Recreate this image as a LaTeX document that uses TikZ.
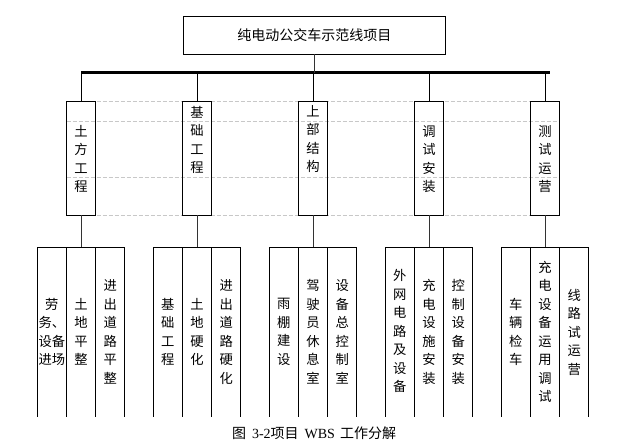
\documentclass[tikz,border=0pt]{standalone}
\usepackage{fontspec}
\setmainfont{Liberation Serif}
\newfontfamily\cjk{Noto Sans CJK SC}
\begin{document}
\begin{tikzpicture}[x=1pt,y=-1pt,
  boxline/.style={line width=1pt,draw=black},
  topbox/.style={boxline,minimum width=262.4pt,minimum height=38pt,inner sep=0pt,outer sep=0pt,
     font=\cjk\fontsize{14}{16}\selectfont},
  parbox/.style={draw=none,minimum width=29pt,minimum height=114.3pt,inner sep=0pt,outer sep=0pt},
  childbox/.style={draw=none,minimum width=29.2pt,minimum height=169.4pt,inner sep=0pt,outer sep=0pt},
  vtext/.style={align=center,inner sep=0pt,font=\cjk\fontsize{13.3}{18.5}\selectfont},
  guide/.style={draw={rgb,255:red,200;green,200;blue,200},line width=0.8pt,dash pattern=on 4pt off 2pt},
  conn/.style={line width=1pt,draw=black!80},
  bus/.style={line width=2.6pt,draw=black}]
\useasboundingbox (0,0) rectangle (624,447);

% top box
\node[topbox] (top) at (314.4,35) {纯电动公交车示范线项目};

% parent boxes
\node[parbox] (p1) at (81,158.15) {};
\node[parbox] (p2) at (197,158.15) {};
\node[parbox] (p3) at (313,158.15) {};
\node[parbox] (p4) at (429,158.15) {};
\node[parbox] (p5) at (545,158.15) {};

% guide dashed lines (behind)
\coordinate (g1l) at (66.5,121.3);
\coordinate (g1r) at (559.5,121.3);
\coordinate (g2l) at (66.5,177.3);
\coordinate (g2r) at (559.5,177.3);
\draw[guide] (p1.north west) -- (p5.north east);
\draw[guide] (g1l) -- (g1r);
\draw[guide] (g2l) -- (g2r);
\draw[guide] (p1.south west) -- (p5.south east);
% parent borders above guides
\foreach \p in {p1,p2,p3,p4,p5} {\draw[boxline] (\p.north west) rectangle (\p.south east);}

% parent texts
\node[vtext] (t1) at (81,159.2) {土\\方\\工\\程};
\node[vtext] (t2) at (197,140) {基\\础\\工\\程};
\node[vtext] (t3) at (313,139.2) {上\\部\\结\\构};
\node[vtext] (t4) at (429,159.2) {调\\试\\安\\装};
\node[vtext] (t5) at (545,159.2) {测\\试\\运\\营};

% bus
\coordinate (busL) at (81,72.7);
\coordinate (busR) at (550.4,72.7);
\draw[bus] (busL) -- (busR);
\draw[conn] (top.south) -- (top.south |- busL);
\foreach \p in {p1,p2,p3,p4,p5} {\draw[line width=1pt] (\p.north) -- (\p.north |- busL);}

% children
\foreach \g/\cx in {1/81,2/197,3/313,4/429,5/545} {
  \node[childbox] (c\g a) at (\cx-29.2,332) {};
  \node[childbox] (c\g b) at (\cx,332) {};
  \node[childbox] (c\g c) at (\cx+29.2,332) {};
  \draw[boxline] (c\g a.south west) -- (c\g a.north west) -- (c\g c.north east) -- (c\g c.south east);
  \draw[boxline] (c\g b.north west) -- (c\g b.south west);
  \draw[boxline] (c\g b.north east) -- (c\g b.south east);
  \draw[conn] (p\g.south) -- (c\g b.north);
}

% child texts
\node[vtext] at (c1a) {劳\\务、\\设备\\进场};
\node[vtext] at (c1b) {土\\地\\平\\整};
\node[vtext] at (c1c) {进\\出\\道\\路\\平\\整};
\node[vtext] at (c2a) {基\\础\\工\\程};
\node[vtext] at (c2b) {土\\地\\硬\\化};
\node[vtext] at (c2c) {进\\出\\道\\路\\硬\\化};
\node[vtext] at (c3a) {雨\\棚\\建\\设};
\node[vtext] at (c3b) {驾\\驶\\员\\休\\息\\室};
\node[vtext] at (c3c) {设\\备\\总\\控\\制\\室};
\node[vtext] at ([yshift=1pt]c4a) {外\\网\\电\\路\\及\\设\\备};
\node[vtext] at (c4b) {充\\电\\设\\施\\安\\装};
\node[vtext] at (c4c) {控\\制\\设\\备\\安\\装};
\node[vtext] at (c5a) {车\\辆\\检\\车};
\node[vtext] at (c5b) {充\\电\\设\\备\\运\\用\\调\\试};
\node[vtext] at (c5c) {线\\路\\试\\运\\营};

% caption
\node[inner sep=0pt,font=\fontsize{14}{15}\selectfont] (cap) at (314,433)
  {{\cjk 图}\hspace{6pt}3-2{\cjk 项目}\hspace{6pt}WBS\hspace{5pt}{\cjk 工作分解}};
\end{tikzpicture}
\end{document}
